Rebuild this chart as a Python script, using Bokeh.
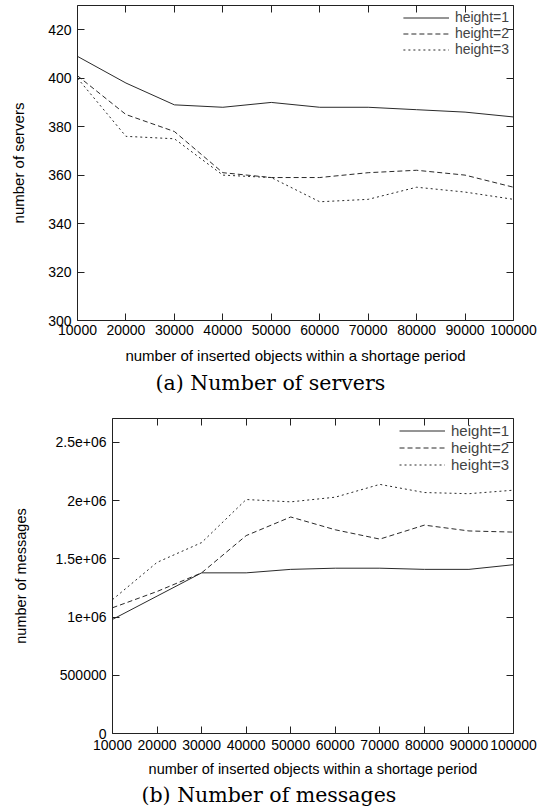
from bokeh.plotting import figure
from bokeh.models import (LinearAxis, FixedTicker, Legend, LegendItem, Title, Range1d)
from bokeh.embed import file_html
from bokeh.resources import INLINE

# ---------------- data ----------------
inserted = [10000, 20000, 30000, 40000, 50000, 60000, 70000, 80000, 90000, 100000]
inserted_labels = ["10000", "20000", "30000", "40000", "50000",
                   "60000", "70000", "80000", "90000", "100000"]

servers_h1 = [409, 398, 389, 388, 390, 388, 388, 387, 386, 384]
servers_h2 = [401, 385, 378, 361, 359, 359, 361, 362, 360, 355]
servers_h3 = [400, 376, 375, 360, 359, 349, 350, 355, 353, 350]

messages_h1 = [980000, 1180000, 1380000, 1380000, 1410000, 1420000, 1420000, 1410000, 1410000, 1450000]
messages_h2 = [1080000, 1220000, 1380000, 1700000, 1860000, 1750000, 1670000, 1790000, 1740000, 1730000]
messages_h3 = [1150000, 1470000, 1640000, 2010000, 1990000, 2030000, 2140000, 2070000, 2060000, 2090000]

series_labels = ["height=1", "height=2", "height=3"]
server_ticks = [300, 320, 340, 360, 380, 400, 420]
server_tick_labels = ["300", "320", "340", "360", "380", "400", "420"]
message_ticks = [0, 500000, 1000000, 1500000, 2000000, 2500000]
message_tick_labels = ["0", "500000", "1e+06", "1.5e+06", "2e+06", "2.5e+06"]

x_title = "number of inserted objects within a shortage period"
SANS = "Liberation Sans"
SERIF = "DejaVu Serif"
LINE_COLOR = "#2a2a2a"
dashes = ["solid", "5 3", "2 3"]


def make_panel(ys, yticks, ylabels, yrange, ytitle, caption, cap_offset,
               fw, fh, bl, br, bt, tick_fs, label_fs, legend_fs, ylab_standoff,
               xtick_standoff, xlab_standoff, cap_standoff):
    p = figure(frame_width=fw, frame_height=fh,
               x_range=Range1d(10000, 100000), y_range=Range1d(*yrange),
               output_backend="svg", toolbar_location=None,
               min_border_left=bl, min_border_right=br,
               min_border_top=bt, min_border_bottom=0)
    p.grid.visible = False
    p.outline_line_color = "#222222"
    p.outline_line_width = 1
    p.background_fill_color = "white"
    p.border_fill_color = "white"

    renderers = []
    for y, d in zip(ys, dashes):
        r = p.line(inserted, y, line_color=LINE_COLOR, line_width=1, line_dash=d)
        renderers.append(r)

    for ax in (p.xaxis[0], p.yaxis[0]):
        ax.axis_line_color = None
        ax.major_tick_in = 7
        ax.major_tick_out = 0
        ax.minor_tick_line_color = None
        ax.major_tick_line_color = "#222222"
        ax.major_label_text_font = SANS
        ax.major_label_text_font_size = tick_fs
        ax.major_label_text_color = "black"
        ax.axis_label_text_font = SANS
        ax.axis_label_text_font_size = label_fs
        ax.axis_label_text_font_style = "normal"
        ax.axis_label_text_color = "black"

    p.xaxis[0].ticker = FixedTicker(ticks=inserted)
    p.xaxis[0].major_label_overrides = {t: l for t, l in zip(inserted, inserted_labels)}
    p.xaxis[0].axis_label = x_title
    p.xaxis[0].major_label_standoff = xtick_standoff
    p.xaxis[0].axis_label_standoff = xlab_standoff
    p.yaxis[0].ticker = FixedTicker(ticks=yticks)
    p.yaxis[0].major_label_overrides = {t: l for t, l in zip(yticks, ylabels)}
    p.yaxis[0].axis_label = ytitle
    p.yaxis[0].major_label_standoff = 6
    p.yaxis[0].axis_label_standoff = ylab_standoff

    # mirror ticks on top and right
    top = LinearAxis(ticker=FixedTicker(ticks=inserted),
                     major_label_overrides={t: "" for t in inserted})
    right = LinearAxis(ticker=FixedTicker(ticks=yticks),
                       major_label_overrides={t: "" for t in yticks})
    for ax in (top, right):
        ax.axis_line_color = None
        ax.major_tick_in = 7
        ax.major_tick_out = 0
        ax.minor_tick_line_color = None
        ax.major_tick_line_color = "#222222"
        ax.major_label_standoff = 0
    p.add_layout(top, "above")
    p.add_layout(right, "right")

    legend = Legend(items=[LegendItem(label=l, renderers=[r])
                           for l, r in zip(series_labels, renderers)],
                    location="top_right")
    legend.label_text_font = SANS
    legend.label_text_font_size = legend_fs
    legend.label_height = 13
    legend.glyph_height = 13
    legend.glyph_width = 46
    legend.spacing = 0
    legend.padding = 3
    legend.margin = 4
    legend.label_standoff = 6
    legend.border_line_color = None
    legend.background_fill_alpha = 0
    p.add_layout(legend, "center")

    cap = Title(text=caption, align="left", text_font=SERIF,
                text_font_size="20.5px", text_font_style="normal",
                text_color="black", standoff=cap_standoff, offset=cap_offset)
    p.add_layout(cap, "below")
    return p


p1 = make_panel([servers_h1, servers_h2, servers_h3], server_ticks, server_tick_labels,
                (300, 430), "number of servers", "(a) Number of servers", 78,
                fw=436, fh=315, bl=77, br=26, bt=5,
                tick_fs="14px", label_fs="15px", legend_fs="14px", ylab_standoff=18,
                xtick_standoff=4, xlab_standoff=9, cap_standoff=5)

p2 = make_panel([messages_h1, messages_h2, messages_h3], message_ticks, message_tick_labels,
                (0, 2706000), "number of messages", "(b) Number of messages", 29,
                fw=401, fh=315, bl=112, br=26, bt=21,
                tick_fs="14px", label_fs="14.5px", legend_fs="15px", ylab_standoff=24,
                xtick_standoff=6, xlab_standoff=8, cap_standoff=3)

open("out.html", "w").write(file_html([p1, p2], INLINE))
